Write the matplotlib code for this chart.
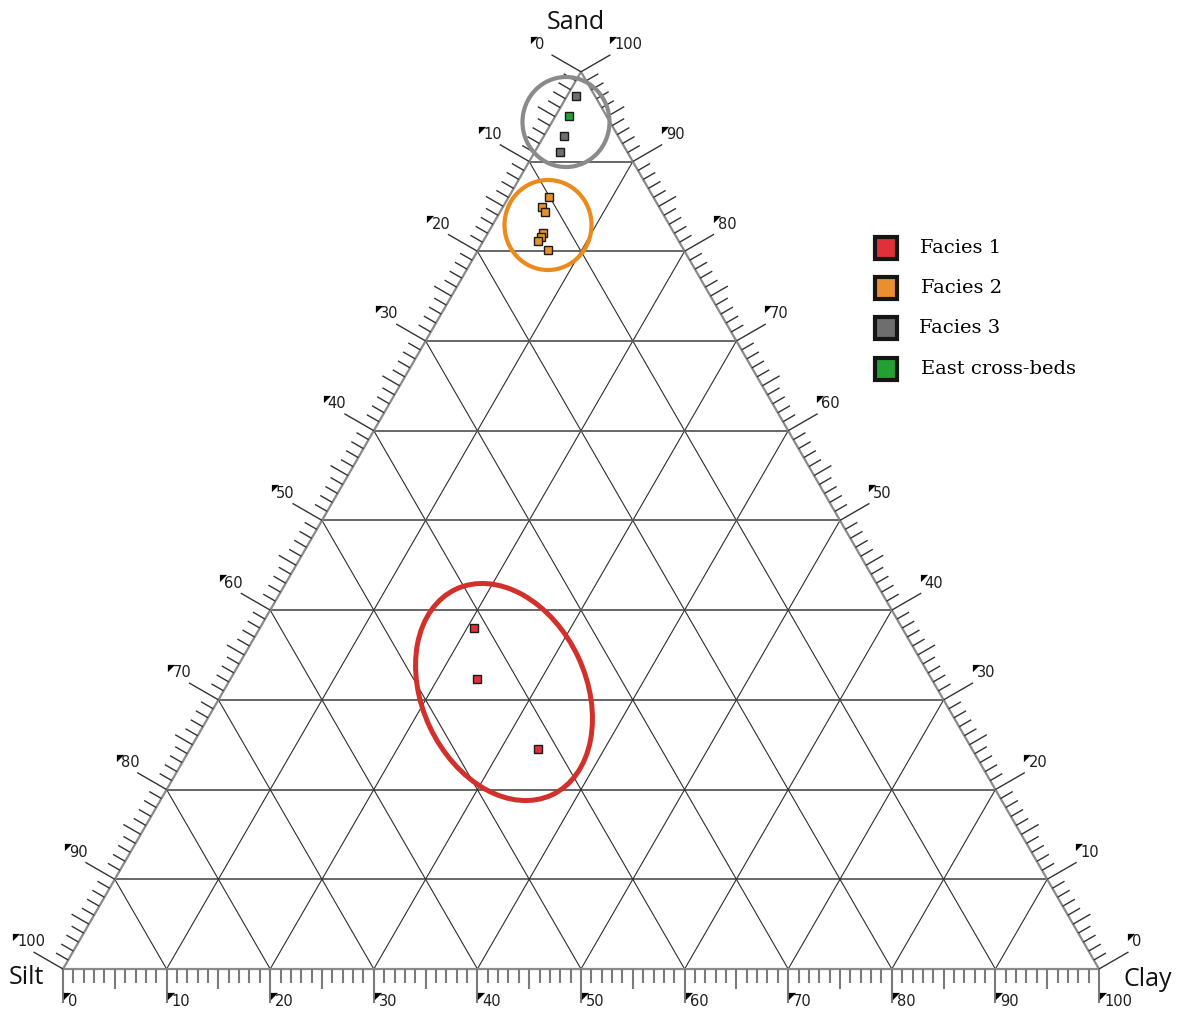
import numpy as np
import matplotlib.pyplot as plt
from matplotlib.patches import Ellipse
from matplotlib.collections import LineCollection

# Grain-size compositions (percent); silt = 100 - sand - clay
facies1_sand = [38.0, 32.3, 24.5]
facies1_clay = [20.7, 23.8, 33.6]
facies2_sand = [86.0, 84.9, 84.4, 82.0, 81.6, 81.1, 80.1]
facies2_clay = [3.9, 3.8, 4.3, 5.3, 5.3, 5.3, 6.8]
facies3_sand = [97.3, 92.8, 91.1]
facies3_clay = [0.9, 2.0, 2.4]
east_sand = [95.1]
east_clay = [1.3]

group_names = ['Facies 1', 'Facies 2', 'Facies 3', 'East cross-beds']
group_colors = ['#e0313a', '#e98f2e', '#6e6e6e', '#22a034']
tick_values = list(range(0, 101, 10))

H = np.sqrt(3) / 2
PX = 1 / 1036.0  # one pixel in triangle units


def to_xy(sand, clay):
    sand = np.asarray(sand, dtype=float) / 100
    clay = np.asarray(clay, dtype=float) / 100
    return clay + sand / 2, sand * H


fig = plt.figure(figsize=(11.83, 10.11), dpi=100)
ax = fig.add_axes([0, 0, 1, 1])
ax.set_xlim(-63 * PX, 1120 * PX)
ax.set_ylim(-42 * PX, 969 * PX)
ax.axis('off')

# grid lines every 10 %
for v in range(10, 100, 10):
    x, y = to_xy([v, v], [0, 100 - v])
    ax.plot(x, y, color='#5a5a5a', lw=1.3, zorder=1)
    x, y = to_xy([0, 100 - v], [v, v])
    ax.plot(x, y, color='#2e2e2e', lw=0.8, zorder=1)
    x, y = to_xy([0, 100 - v], [100 - v, 0])
    ax.plot(x, y, color='#2e2e2e', lw=0.8, zorder=1)

# triangle outline
x, y = to_xy([0, 0, 100, 0], [0, 100, 0, 0])
ax.plot(x, y, color='#8a8a8a', lw=1.6, zorder=2)


def tick_len(i):
    if i % 10 == 0:
        return 34 * PX
    if i % 5 == 0:
        return 20 * PX
    return 14 * PX


bottom, left, right = [], [], []
for i in range(0, 101):
    L = tick_len(i)
    # clay axis along the base
    x0, y0 = to_xy(0, i)
    bottom.append([(x0, y0), (x0, y0 - L)])
    # silt axis along the left edge
    x0, y0 = to_xy(100 - i, 0)
    left.append([(x0, y0), (x0 - L * H, y0 + L * 0.5)])
    # sand axis along the right edge
    x0, y0 = to_xy(i, 100 - i)
    right.append([(x0, y0), (x0 + L * H, y0 + L * 0.5)])

ax.add_collection(LineCollection(bottom, colors='#7a7a7a', linewidths=1.5, zorder=2))
ax.add_collection(LineCollection(left + right, colors='#333333', linewidths=1.0, zorder=2))

tri = [(-1, 1), (1, 1), (-1, -1)]
lab_kw = dict(fontsize=10.5, color='#1e1e1e', ha='left', va='center', family='DejaVu Sans')


def tick_label(xl, yc, text):
    ax.text(xl, yc, text, **lab_kw)
    ax.plot(xl - 1 * PX, yc + 5 * PX, marker=tri, ms=5.2, color='black', mew=0, zorder=4)


for v in tick_values:
    x0, y0 = to_xy(0, v)
    tick_label(x0 + 5 * PX, y0 - 32 * PX, str(v))
    x0, y0 = to_xy(100 - v, 0)
    tick_label(x0 - 46 * PX, y0 + 27 * PX, str(v))
    x0, y0 = to_xy(v, 100 - v)
    tick_label(x0 + 33 * PX, y0 + 27 * PX, str(v))

# corner labels
corner_kw = dict(fontsize=18, color='#111111', family='Open Sans', ha='center', va='center')
ax.text(513 * PX, 946 * PX, 'Sand', **corner_kw)
ax.text(-37 * PX, -9 * PX, 'Silt', **corner_kw)
ax.text(1085 * PX, -10 * PX, 'Clay', **corner_kw)

# outlines around the three clusters
ax.add_patch(Ellipse((503 * PX, 847 * PX), 87 * PX, 90 * PX, fill=False,
                     ec='#8a8a8a', lw=3.0, zorder=3))
ax.add_patch(Ellipse((485 * PX, 744 * PX), 87 * PX, 90 * PX, fill=False,
                     ec='#ec8a1c', lw=3.0, zorder=3))
ax.add_patch(Ellipse((441 * PX, 277 * PX), 164 * PX, 227 * PX, angle=25, fill=False,
                     ec='#d2302a', lw=3.6, zorder=3))

groups = [(facies1_sand, facies1_clay), (facies2_sand, facies2_clay),
          (facies3_sand, facies3_clay), (east_sand, east_clay)]
for (sand, clay), color in zip(groups, group_colors):
    x, y = to_xy(sand, clay)
    ax.plot(x, y, 's', ms=6, mfc=color, mec='#1a1a1a', mew=1.0, ls='none', zorder=5)

# legend
leg_y = [721, 681, 641, 600]
leg_x = [857, 858, 856, 858]
for name, color, yy, xx in zip(group_names, group_colors, leg_y, leg_x):
    ax.plot(823 * PX, yy * PX, 's', ms=16, mfc=color, mec='#151515', mew=3.0, zorder=5)
    ax.text(xx * PX, yy * PX, name, fontsize=14, family='DejaVu Serif',
            color='black', ha='left', va='center')

plt.savefig('out.png', dpi=100)
